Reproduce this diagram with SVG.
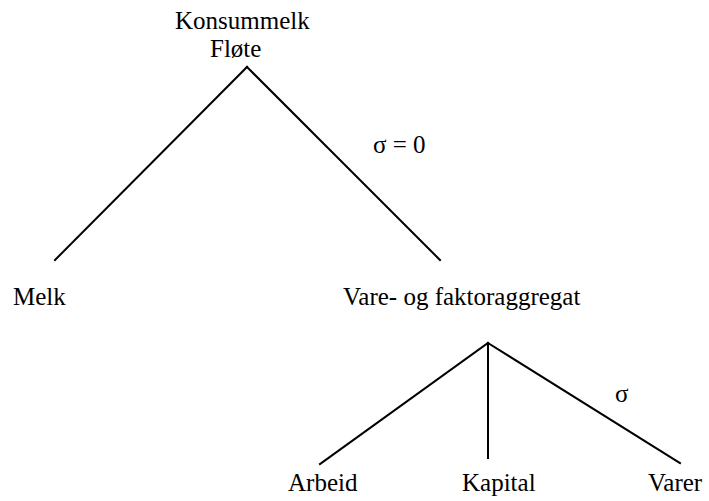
<svg xmlns="http://www.w3.org/2000/svg" width="709" height="501" viewBox="0 0 709 501">
<style>
text { font-family: "Liberation Serif", "Times New Roman", serif; font-size: 25px; fill: #000; }
.c line { stroke: #000; stroke-width: 2; stroke-linecap: square; }
</style>
<rect width="709" height="501" fill="#fff"/>
<g id="root">
<text x="175" y="29">Konsummelk</text>
<text x="210" y="57">Fløte</text>
</g>
<g id="melk"><text x="13" y="305">Melk</text></g>
<g id="aggregat"><text x="343" y="305">Vare- og faktoraggregat</text></g>
<g id="arbeid"><text x="288" y="491">Arbeid</text></g>
<g id="kapital"><text x="462" y="491">Kapital</text></g>
<g id="varer"><text x="648" y="491">Varer</text></g>
<g id="labels">
<text x="373" y="153">σ = 0</text>
<text x="615" y="402">σ</text>
</g>
<g class="c" id="connectors">
<line x1="247" y1="67" x2="55" y2="260"/>
<line x1="247" y1="67" x2="440" y2="260"/>
<line x1="488" y1="343" x2="320" y2="464"/>
<line x1="488" y1="343" x2="488" y2="458"/>
<line x1="488" y1="343" x2="680" y2="463"/>
</g>
</svg>
